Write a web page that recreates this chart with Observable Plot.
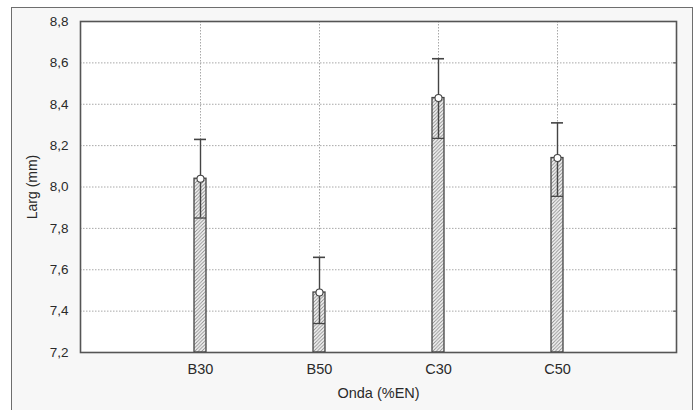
<!DOCTYPE html>
<html>
<head>
<meta charset="utf-8">
<script src="https://cdn.jsdelivr.net/npm/d3@7"></script>
<script src="https://cdn.jsdelivr.net/npm/@observablehq/plot@0.6"></script>
<style>
  html, body { margin: 0; padding: 0; background: #ffffff; }
  #wrap { position: relative; width: 698px; height: 410px; overflow: hidden; }
  #panel { position: absolute; left: 11px; top: 7px; width: 680px; height: 420px;
           background: #f7f7f7; border: 1px solid #6e6e6e; }
  #chart { position: absolute; left: 0; top: 0; }
  #chart svg text { font-family: 'Liberation Sans', Arial, sans-serif; }
  #chart svg g[aria-label="y-axis tick label"] { font-size: 13.5px !important; }
  #chart svg g[aria-label="x-axis tick label"] { font-size: 14.5px !important; }
  #chart svg g[aria-label="y-axis label"] { font-size: 14px !important; }
  #chart svg g[aria-label="x-axis label"] { font-size: 14.5px !important; }
</style>
</head>
<body>
<div id="wrap">
  <div id="panel"></div>
  <div id="chart"></div>
</div>
<script>
const categories = ["B30", "B50", "C30", "C50"];
const means  = [8.04, 7.49, 8.43, 8.14];
const lowers = [7.85, 7.34, 8.235, 7.955];
const uppers = [8.23, 7.66, 8.62, 8.31];
const yTicks = [7.2, 7.4, 7.6, 7.8, 8.0, 8.2, 8.4, 8.6, 8.8];
const yMin = 7.2, yMax = 8.8;
const xLabel = "Onda (%EN)";
const yLabel = "Larg (mm)";

const data = categories.map((c, i) => ({cat: c, mean: means[i], lo: lowers[i], hi: uppers[i], base: yMin}));
const fmt = d => d.toFixed(1).replace(".", ",");
const inner = yTicks.slice(1, -1);
const ink = "#444";

const chart = Plot.plot({
  width: 698,
  height: 410,
  marginLeft: 80,
  marginRight: 22,
  marginTop: 21,
  marginBottom: 58,
  style: {background: "transparent", fontFamily: "'Liberation Sans', Arial, sans-serif", fontSize: "14px", color: "#2a2a2a"},
  x: {type: "band", domain: categories, paddingInner: 0.9, paddingOuter: 0.95, align: 0.5},
  y: {domain: [yMin, yMax]},
  marks: [
    Plot.frame({fill: "white", stroke: null}),
    Plot.gridY(inner, {stroke: "#a8a8a8", strokeOpacity: 1, strokeDasharray: "1.5,1.5"}),
    Plot.gridX({stroke: "#a8a8a8", strokeOpacity: 1, strokeDasharray: "1.5,1.5"}),
    Plot.axisY(yTicks, {tickSize: 0, tickPadding: 12, tickFormat: fmt,
      label: yLabel, labelAnchor: "center", labelOffset: 53, labelArrow: "none"}),
    Plot.axisY(inner, {anchor: "right", tickSize: -4, tickFormat: () => "", label: null, stroke: ink}),
    Plot.axisX({tickSize: 0, tickPadding: 11, label: xLabel, labelAnchor: "center", labelOffset: 45, labelArrow: "none"}),
    Plot.barY(data, {x: "cat", y1: "base", y2: "mean", fill: "url(#hatch)", stroke: ink, strokeWidth: 1.3}),
    Plot.tickY(data, {x: "cat", y: "lo", stroke: ink, strokeWidth: 1.3}),
    Plot.ruleX(data, {x: "cat", y1: "lo", y2: "hi", stroke: ink, strokeWidth: 1.4}),
    Plot.tickY(data, {x: "cat", y: "hi", stroke: ink, strokeWidth: 1.6}),
    Plot.dot(data, {x: "cat", y: "mean", r: 3.5, fill: "white", stroke: ink, strokeWidth: 1.1}),
    Plot.frame({stroke: "#555", strokeWidth: 1.6})
  ]
});

const defs = d3.select(chart).insert("defs", ":first-child");
const pat = defs.append("pattern")
  .attr("id", "hatch")
  .attr("patternUnits", "userSpaceOnUse")
  .attr("width", 3.5).attr("height", 3.5);
pat.append("rect").attr("width", 3.5).attr("height", 3.5).attr("fill", "#f6f6f6");
pat.append("path").attr("d", "M-1,1 l2,-2 M0,3.5 l3.5,-3.5 M2.5,4.5 l2,-2")
  .attr("stroke", "#8a8a8a").attr("stroke-width", 0.9);

document.getElementById("chart").appendChild(chart);
</script>
</body>
</html>
